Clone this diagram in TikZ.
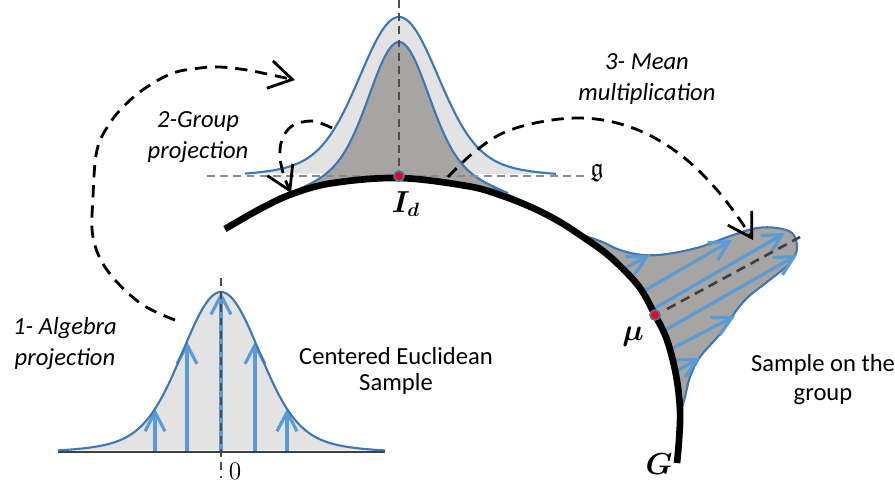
\documentclass[tikz,border=0pt]{standalone}
\usepackage{amsmath, amssymb}
\usepackage[no-math]{fontspec}
\setmainfont{Carlito}
\usepackage{tikz}
\usetikzlibrary{arrows.meta}

\definecolor{curveblue}{HTML}{3B78B4}
\definecolor{arrowblue}{HTML}{5B9BD5}
\definecolor{lightfill}{HTML}{E3E3E3}
\definecolor{darkfill}{HTML}{A7A4A4}
\definecolor{guidegray}{HTML}{8A8A8A}

\tikzset{
	density/.style={draw=curveblue, line width=1.2pt},
	samplearrow/.style={draw=arrowblue, line width=1.8pt, -{Straight Barb[length=3.8mm, width=4mm]}},
	flow/.style={black, line width=1.6pt, dash pattern=on 7pt off 4.5pt, -{Straight Barb[length=4.6mm, width=5.6mm]}},
	guide/.style={guidegray, line width=1pt, dash pattern=on 4.5pt off 3pt},
	stagetext/.style={font=\fontsize{14}{17.6}\selectfont\itshape, align=center, inner sep=0pt, anchor=base},
	sampletext/.style={font=\fontsize{14}{16.5}\selectfont, align=center, inner sep=0pt, anchor=base},
	mathtext/.style={font=\fontsize{16}{18}\selectfont, inner sep=0pt},
	meandot/.style={fill=red, draw=curveblue, line width=1pt}
}

\begin{document}
\begin{tikzpicture}[x=0.02cm, y=-0.02cm,
	declare function={bump(\dx,\sg)=0.85*exp(-0.5*(\dx/\sg)*(\dx/\sg))+0.15*exp(-0.5*(\dx/(1.9*\sg))*(\dx/(1.9*\sg)));
		gtop(\xx)=178+15*((\xx-399)/100)*((\xx-399)/100);}]
	\useasboundingbox (0,0) rectangle (895,485);
	
	% Punti chiave
	\coordinate (Id) at (399,176);
	\coordinate (mu) at (655,315);
	\coordinate (alg_start) at (175,320);
	\coordinate (alg_end)   at (295,80);
	\coordinate (grp_start) at (332,128);
	\coordinate (grp_end)   at (291,193);
	\coordinate (mean_start) at (448,177);
	\coordinate (mean_end)   at (753,240);
	
	% ================= CAMPIONE EUCLIDEO =================
	\fill[lightfill] plot[domain=58:385, samples=140] (\x, {452-160*bump(\x-221,37)}) -- cycle;
	\foreach \dx in {-66,-34,0,34,66} {
		\draw[samplearrow] ({221+\dx}, 452) -- ({221+\dx}, {452-160*bump(\dx,37)});
	}
	\draw[density] plot[domain=58:385, samples=140] (\x, {452-160*bump(\x-221,37)});
	\draw[black!75, line width=1pt] (58,452) -- (385,452);
	\draw[guide, black!70] (221,278) -- (221,478);
	
	% ================= ALGEBRA E GRUPPO IN Id =================
	\fill[lightfill] plot[domain=245:556, samples=140] (\x, {176-159*bump(\x-399,37.8)}) -- cycle;
	\draw[density] plot[domain=245:556, samples=140] (\x, {176-159*bump(\x-399,37.8)});
	\fill[darkfill] plot[domain=292:508, samples=120] (\x, {gtop(\x)-136*bump(\x-399,28.3)})
		-- plot[domain=508:292, samples=40] (\x, {gtop(\x)}) -- cycle;
	\draw[density] plot[domain=292:508, samples=120] (\x, {gtop(\x)-136*bump(\x-399,28.3)});
	
	% ================= CAMPIONE SUL GRUPPO =================
	\fill[darkfill] plot[smooth, tension=0.6] coordinates {(572,231) (600,241) (620,250) (643,255) (667,254)
		(700,247) (733,235) (757,228) (777,228) (792,233) (797,245) (795,255) (787,266) (767,282) (747,298)
		(733,315) (720,334) (700,357) (690,377) (685,397) (681,412)}
		-- plot[smooth, tension=0.6] coordinates {(680,410) (676,375) (667,340) (655,315) (640,288) (620,266)
		(603,251) (583,237) (572,231)} -- cycle;
	\draw[density] plot[smooth, tension=0.6] coordinates {(493,188) (533,206) (560,221) (572,231) (600,241)
		(620,250) (643,255) (667,254) (700,247) (733,235) (757,228) (777,228) (792,233) (797,245) (795,255)
		(787,266) (767,282) (747,298) (733,315) (720,334) (700,357) (690,377) (685,397) (681,412)};
	\foreach \xa/\ya/\xb/\yb in {625/268/650/255, 642/292/732/240, 655/308/785/233,
		662/332/797/255, 673/348/735/316, 678/370/700/358} {
		\draw[samplearrow] (\xa,\ya) -- (\xb,\yb);
	}
	\draw[black!75, line width=1.5pt, dash pattern=on 5.5pt off 3.5pt] (667,309) -- (800,237);
	
	% Assi tratteggiati
	\draw[guide] (207,176) -- (588,176);
	\draw[guide, black!70] (399,0) -- (Id);
	
	% Gruppo G
	\draw[black, line width=3.8pt] plot[smooth, tension=0.6] coordinates {(225,229) (260,209) (292,194)
		(333,183) (399,178) (467,186) (500,195) (533,208) (560,222) (583,237) (603,251) (620,266)
		(640,288) (655,315) (667,340) (676,375) (680,410) (679,440) (677,463)};
	\fill[meandot] (Id) circle[radius=1mm];
	\fill[meandot] (mu) circle[radius=1mm];
	
	% ================= FRECCE =================
	\draw[flow] plot[smooth, tension=0.6] coordinates {(alg_start) (140,303) (107,270) (93,237) (93,197)
		(97,150) (110,123) (127,103) (147,87) (173,73) (200,68) (220,67) (247,70) (267,74) (alg_end)};
	\draw[flow] plot[smooth, tension=0.6] coordinates {(grp_start) (312,121) (292,126) (282,140) (280,157)
		(284,176) (grp_end)};
	\draw[flow] plot[smooth, tension=0.6] coordinates {(mean_start) (473,153) (503,133) (540,122) (580,118)
		(617,123) (653,137) (687,160) (717,190) (740,220) (mean_end)};
	
	% ================= TESTI =================
	\node[stagetext] (alg_label) at (65,365) {1- Algebra\\projection};
	\node[stagetext] (grp_label) at (198,158) {2-Group\\projection};
	\node[stagetext] (mean_label) at (647,100) {3- Mean\\multiplication};
	\node[sampletext, font=\fontsize{14}{14.4}\selectfont] (euc_label) at (396,390) {Centered Euclidean\\Sample};
	\node[sampletext] (grpsample_label) at (823,400) {Sample on the\\group};
	\node[mathtext] (Id_label) at (406,204) {$\boldsymbol{I_d}$};
	\node[mathtext] (mu_label) at (633,337) {$\boldsymbol{\mu}$};
	\node[mathtext, font=\fontsize{19}{21}\selectfont] (G_label) at (659,464) {$\boldsymbol{G}$};
	\node[mathtext, font=\fontsize{14}{16}\selectfont] (zero_label) at (235,471) {$0$};
	\node[mathtext, font=\fontsize{15}{17}\selectfont] (g_label) at (597,173) {$\mathfrak{g}$};
	
\end{tikzpicture}
\end{document}
